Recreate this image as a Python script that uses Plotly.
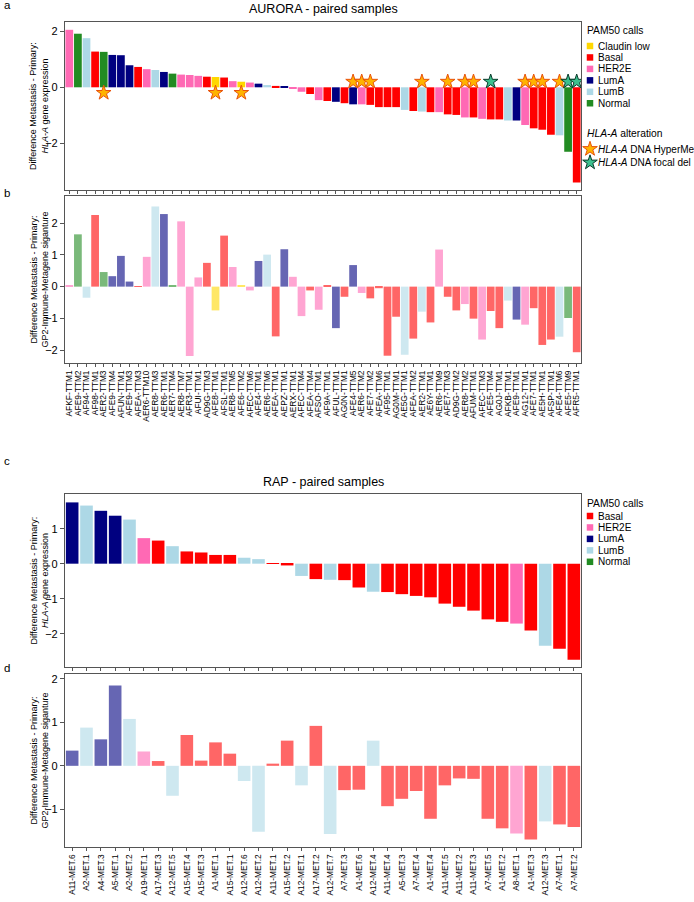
import plotly.graph_objects as go

W, H = 694, 902

# ---------------- DATA ----------------
aurora_samples = [
    "AFKF-TTM1", "AFE9-TTM2", "AF94-TTM1", "AF98-TTM1", "AER2-TTM3", "AFE9-TTM4", "AFUN-TTM1", "AFE9-TTM3",
    "AFEA-TTM3", "AER6-TTM10", "AER8-TTM3", "AER6-TTM1", "AER7-TTM4", "AER8-TTM7", "AFR3-TTM1", "AFUI-TTM1",
    "AD9G-TTM3", "AFE8-TTM1", "AFSL-TTM1", "AER8-TTM5", "AFE6-TTM2", "AFEC-TTM6", "AFE4-TTM1", "AER6-TTM6",
    "AFEA-TTM1", "AEPZ-TTM1", "AERX-TTM1", "AFEC-TTM4", "AFEA-TTM4", "AFSO-TTM1", "AF9A-TTM1", "AFUL-TTM1",
    "AG0N-TTM1", "AFE4-TTM5", "AER6-TTM2", "AFE7-TTM2", "AFEA-TTM6", "AF95-TTM1", "AG0M-TTM1", "AE5G-TTM1",
    "AFEA-TTM2", "AER2-TTM1", "AE6Y-TTM1", "AER6-TTM9", "AFE7-TTM3", "AD9G-TTM2", "AER8-TTM2", "AFUM-TTM1",
    "AFEC-TTM3", "AFE5-TTM4", "AG0J-TTM1", "AFKB-TTM1", "AFE9-TTM1", "AG12-TTM1", "AFE7-TTM1", "AE5H-TTM1",
    "AFSP-TTM1", "AFE4-TTM6", "AFE5-TTM9", "AFR5-TTM1",
]
aurora_pam50 = [
    "HER2E", "Normal", "LumB", "Basal", "Normal", "LumA", "LumA", "LumA", "Basal", "HER2E",
    "LumB", "LumA", "Normal", "HER2E", "HER2E", "HER2E", "Basal", "Claudin low", "Basal", "HER2E",
    "Claudin low", "HER2E", "LumA", "LumB", "Basal", "LumA", "HER2E", "HER2E", "Basal", "HER2E",
    "Basal", "LumA", "Basal", "LumA", "HER2E", "Basal", "Basal", "Basal", "Basal", "LumB",
    "Basal", "LumB", "Basal", "HER2E", "Basal", "Basal", "HER2E", "Basal", "HER2E", "Basal",
    "Basal", "LumB", "LumA", "HER2E", "Basal", "Basal", "Basal", "LumB", "Normal", "Basal",
]
aurora_hla_diff = [
    2.06, 1.92, 1.76, 1.28, 1.27, 1.16, 1.15, 0.79, 0.73, 0.65,
    0.62, 0.55, 0.49, 0.455, 0.44, 0.41, 0.38, 0.37, 0.35, 0.22,
    0.20, 0.17, 0.13, 0.08, 0.05, 0.025, -0.05, -0.16, -0.24, -0.46,
    -0.49, -0.52, -0.57, -0.61, -0.61, -0.63, -0.71, -0.71, -0.71, -0.81,
    -0.85, -0.87, -0.89, -0.89, -0.97, -0.99, -1.08, -1.08, -1.13, -1.15,
    -1.15, -1.19, -1.19, -1.35, -1.47, -1.52, -1.70, -1.72, -2.31, -3.41,
]
aurora_gp2_diff = [
    0.04, 1.65, -0.35, 2.26, 0.46, 0.33, 0.97, 0.16, 0.02, 0.94,
    2.53, 2.29, 0.03, 2.06, -2.19, 0.29, 0.75, -0.75, 1.61, 0.62,
    0.03, -0.12, 0.81, 1.01, -1.57, 1.18, 0.31, -0.93, -0.12, -0.73,
    0.05, -1.31, -0.32, 0.68, -0.20, -0.37, -0.05, -2.18, -0.95, -2.15,
    -1.64, -0.79, -1.13, 1.17, -0.32, -0.75, -0.55, -1.01, -1.67, -0.77,
    -1.31, -0.44, -1.04, -1.20, -0.68, -1.84, -1.67, -1.58, -0.99, -2.07,
]
aurora_hla_alteration = [
    "", "", "", "", "HyperMe", "", "", "", "", "",
    "", "", "", "", "", "", "", "HyperMe", "", "",
    "HyperMe", "", "", "", "", "", "", "", "", "",
    "", "", "", "HyperMe", "HyperMe", "HyperMe", "", "", "", "",
    "", "HyperMe", "", "", "HyperMe", "", "HyperMe", "HyperMe", "", "FocalDel",
    "", "", "", "HyperMe", "HyperMe", "HyperMe", "", "HyperMe", "FocalDel", "FocalDel",
]

rap_samples = [
    "A11-MET.6", "A2-MET.1", "A4-MET.3", "A5-MET.1", "A2-MET.2", "A19-MET.1", "A17-MET.3", "A12-MET.5",
    "A15-MET.4", "A15-MET.3", "A1-MET.1", "A15-MET.1", "A12-MET.6", "A12-MET.2", "A11-MET.1", "A15-MET.2",
    "A12-MET.1", "A17-MET.2", "A12-MET.7", "A7-MET.3", "A1-MET.6", "A12-MET.4", "A11-MET.4", "A5-MET.3",
    "A7-MET.4", "A1-MET.4", "A11-MET.5", "A11-MET.2", "A11-MET.3", "A7-MET.5", "A1-MET.2", "A8-MET.1",
    "A1-MET.3", "A12-MET.3", "A7-MET.1", "A7-MET.2",
]
rap_pam50 = [
    "LumA", "LumB", "LumA", "LumA", "LumB", "HER2E", "Basal", "LumB", "Basal", "Basal",
    "Basal", "Basal", "LumB", "LumB", "Basal", "Basal", "LumB", "Basal", "LumB", "Basal",
    "Basal", "LumB", "Basal", "Basal", "Basal", "Basal", "Basal", "Basal", "Basal", "Basal",
    "Basal", "HER2E", "Basal", "LumB", "Basal", "Basal",
]
rap_hla_diff = [
    1.75, 1.66, 1.51, 1.37, 1.26, 0.73, 0.66, 0.50, 0.35, 0.32,
    0.25, 0.25, 0.17, 0.13, 0.01, -0.05, -0.35, -0.44, -0.46, -0.47,
    -0.68, -0.80, -0.81, -0.87, -0.92, -0.96, -1.14, -1.23, -1.34, -1.59,
    -1.66, -1.71, -1.91, -2.34, -2.43, -2.74,
]
rap_gp2_diff = [
    0.35, 0.88, 0.61, 1.85, 1.08, 0.33, 0.11, -0.69, 0.71, 0.12,
    0.54, 0.28, -0.35, -1.52, 0.05, 0.58, -0.45, 0.92, -1.57, -0.56,
    -0.55, 0.58, -0.93, -0.76, -0.58, -1.22, -0.45, -0.29, -0.30, -1.22,
    -1.44, -1.56, -1.70, -1.28, -1.35, -1.41,
]

pam50_aurora_legend = ["Claudin low", "Basal", "HER2E", "LumA", "LumB", "Normal"]
pam50_rap_legend = ["Basal", "HER2E", "LumA", "LumB", "Normal"]

# ---------------- STYLE ----------------
FONT = "Liberation Sans, Arial, Helvetica, sans-serif"
AXC = "#555555"
pam50_colors = {
    "Claudin low": "#FFD700", "Basal": "#FF0000", "HER2E": "#FF69B4",
    "LumA": "#000080", "LumB": "#ADD8E6", "Normal": "#228B22",
}


def faded(hexcol, a=0.6):
    r, g, b = int(hexcol[1:3], 16), int(hexcol[3:5], 16), int(hexcol[5:7], 16)
    return "rgb(%d,%d,%d)" % tuple(round(c * a + 255 * (1 - a)) for c in (r, g, b))


star_styles = {
    "HyperMe": dict(color="#FFB300", line=dict(color="#E8520C", width=1)),
    "FocalDel": dict(color="#3CC08E", line=dict(color="#0B3B2C", width=1)),
}


def px_x(p):
    return p / W


def py_dom(top, bottom):
    return [1 - bottom / H, 1 - top / H]


X_DOM = [px_x(65), px_x(581)]

fig = go.Figure()

# Panel a
fig.add_trace(go.Bar(
    x=aurora_samples, y=aurora_hla_diff, width=0.9,
    marker=dict(color=[pam50_colors[p] for p in aurora_pam50], line=dict(width=0)),
    xaxis="x", yaxis="y", showlegend=False, hoverinfo="x+y",
))
for alt in ["HyperMe", "FocalDel"]:
    xs = [s for s, a in zip(aurora_samples, aurora_hla_alteration) if a == alt]
    ys = [(-0.2 if v > 0 else 0.2) for v, a in zip(aurora_hla_diff, aurora_hla_alteration) if a == alt]
    fig.add_trace(go.Scatter(
        x=xs, y=ys, mode="markers", xaxis="x", yaxis="y", showlegend=False,
        marker=dict(symbol="star", size=11, **star_styles[alt]),
    ))

# Panel b
fig.add_trace(go.Bar(
    x=aurora_samples, y=aurora_gp2_diff, width=0.9,
    marker=dict(color=[faded(pam50_colors[p]) for p in aurora_pam50], line=dict(width=0)),
    xaxis="x2", yaxis="y2", showlegend=False,
))

# Panel c
fig.add_trace(go.Bar(
    x=rap_samples, y=rap_hla_diff, width=0.88,
    marker=dict(color=[pam50_colors[p] for p in rap_pam50], line=dict(width=0)),
    xaxis="x3", yaxis="y3", showlegend=False,
))

# Panel d
fig.add_trace(go.Bar(
    x=rap_samples, y=rap_gp2_diff, width=0.88,
    marker=dict(color=[faded(pam50_colors[p]) for p in rap_pam50], line=dict(width=0)),
    xaxis="x4", yaxis="y4", showlegend=False,
))

# ---------------- LEGENDS (drawn on an overlay axis in pixel units) ----------------
LEG_X = 590
LEG_TXT = 595.5
LEG_FS = 10
annotations = []


def legend_text(x, y, text, size=LEG_FS):
    annotations.append(dict(
        x=x, y=y, xref="x5", yref="y5", text=text, showarrow=False,
        xanchor="left", yanchor="middle", font=dict(family=FONT, size=size, color="black"),
    ))


def pam_legend(title_y, first_y, step, labels):
    legend_text(585, title_y, "PAM50 calls", size=10.3)
    ys = [first_y + i * step for i in range(len(labels))]
    fig.add_trace(go.Scatter(
        x=[LEG_X] * len(labels), y=ys, mode="markers", xaxis="x5", yaxis="y5",
        showlegend=False, hoverinfo="skip",
        marker=dict(symbol="square", size=6.5, color=[pam50_colors[l] for l in labels], line=dict(width=0)),
    ))
    for l, y in zip(labels, ys):
        legend_text(LEG_TXT, y, l)


pam_legend(30, 46, 11.45, pam50_aurora_legend)
legend_text(585, 133.5, "<i>HLA-A</i> alteration", size=10.3)
for alt, y, txt in [("HyperMe", 149, "<i>HLA-A</i> DNA HyperMe"), ("FocalDel", 162.5, "<i>HLA-A</i> DNA focal del")]:
    fig.add_trace(go.Scatter(
        x=[LEG_X], y=[y], mode="markers", xaxis="x5", yaxis="y5", showlegend=False, hoverinfo="skip",
        marker=dict(symbol="star", size=11, **star_styles[alt]),
    ))
    legend_text(LEG_TXT, y, txt)

pam_legend(503, 516, 11.45, pam50_rap_legend)

# ---------------- TEXT ----------------
for lab, y in [("a", 5), ("b", 193), ("c", 461), ("d", 668)]:
    annotations.append(dict(x=7, y=y, xref="x5", yref="y5", text=lab, showarrow=False,
                            xanchor="center", yanchor="middle", font=dict(family=FONT, size=11.5)))
for t, y in [("AURORA - paired samples", 9), ("RAP - paired samples", 482)]:
    annotations.append(dict(x=323, y=y, xref="x5", yref="y5", text=t, showarrow=False,
                            xanchor="center", yanchor="middle", font=dict(family=FONT, size=12.5)))

ytitles = [
    ("Difference Metastasis - Primary:<br><i>HLA-A</i> gene expression", (22 + 190) / 2),
    ("Difference Metastasis - Primary:<br>GP2-Immune-Metagene siganture", (196 + 363) / 2),
    ("Difference Metastasis - Primary:<br><i>HLA-A</i> gene expression", (494 + 667) / 2),
    ("Difference Metastasis - Primary:<br>GP2-Immune-Metagene siganture", (674 + 847) / 2),
]
for t, y in ytitles:
    annotations.append(dict(x=39, y=y, xref="x5", yref="y5", text=t, showarrow=False, textangle=-90,
                            xanchor="center", yanchor="middle", font=dict(family=FONT, size=9)))

# ---------------- AXES ----------------
xbase = dict(type="category", showline=True, linecolor=AXC, linewidth=1.2, mirror=True,
             ticks="outside", ticklen=3, tickcolor=AXC, tickwidth=1, showgrid=False, zeroline=False,
             domain=X_DOM, fixedrange=True, tickmode="array")
ybase = dict(showline=True, linecolor=AXC, linewidth=1.2, mirror=True, ticks="outside", ticklen=4,
             tickcolor=AXC, showgrid=False, zeroline=False, fixedrange=True,
             tickfont=dict(family=FONT, size=11, color="black"))

layout = dict(
    width=W, height=H, margin=dict(l=0, r=0, t=0, b=0),
    paper_bgcolor="white", plot_bgcolor="rgba(0,0,0,0)",
    font=dict(family=FONT, color="black"),
    showlegend=False,
    annotations=annotations,
    xaxis=dict(xbase, anchor="y", range=[-0.5, len(aurora_samples) - 0.5], showticklabels=False,
               tickvals=aurora_samples, ticktext=aurora_samples),
    yaxis=dict(ybase, anchor="x", domain=py_dom(22, 190), range=[-3.68, 2.34], tickvals=[-2, 0, 2]),
    xaxis2=dict(xbase, anchor="y2", range=[-0.5, len(aurora_samples) - 0.5], tickangle=-90,
                tickvals=aurora_samples, ticktext=aurora_samples,
                tickfont=dict(family=FONT, size=8.4, color="black")),
    yaxis2=dict(ybase, anchor="x2", domain=py_dom(196, 363), range=[-2.41, 2.86], tickvals=[-2, -1, 0, 1, 2]),
    xaxis3=dict(xbase, anchor="y3", range=[-0.5, len(rap_samples) - 0.5], showticklabels=False,
                tickvals=rap_samples, ticktext=rap_samples),
    yaxis3=dict(ybase, anchor="x3", domain=py_dom(494, 667), range=[-2.95, 1.99], tickvals=[-2, -1, 0, 1]),
    xaxis4=dict(xbase, anchor="y4", range=[-0.5, len(rap_samples) - 0.5], tickangle=-90,
                tickvals=rap_samples, ticktext=rap_samples,
                tickfont=dict(family=FONT, size=8.3, color="black")),
    yaxis4=dict(ybase, anchor="x4", domain=py_dom(674, 847), range=[-1.87, 2.115], tickvals=[-1, 0, 1, 2]),
    xaxis5=dict(domain=[0, 1], range=[0, W], visible=False, fixedrange=True, anchor="y5"),
    yaxis5=dict(domain=[0, 1], range=[H, 0], visible=False, fixedrange=True, anchor="x5"),
)
fig.update_layout(**layout)

# the default page body has an 8px margin; remove it so the figure fills the window exactly
fig.write_html("out.html", config={"displayModeBar": False},
               post_script="document.body.style.margin='0px';")
